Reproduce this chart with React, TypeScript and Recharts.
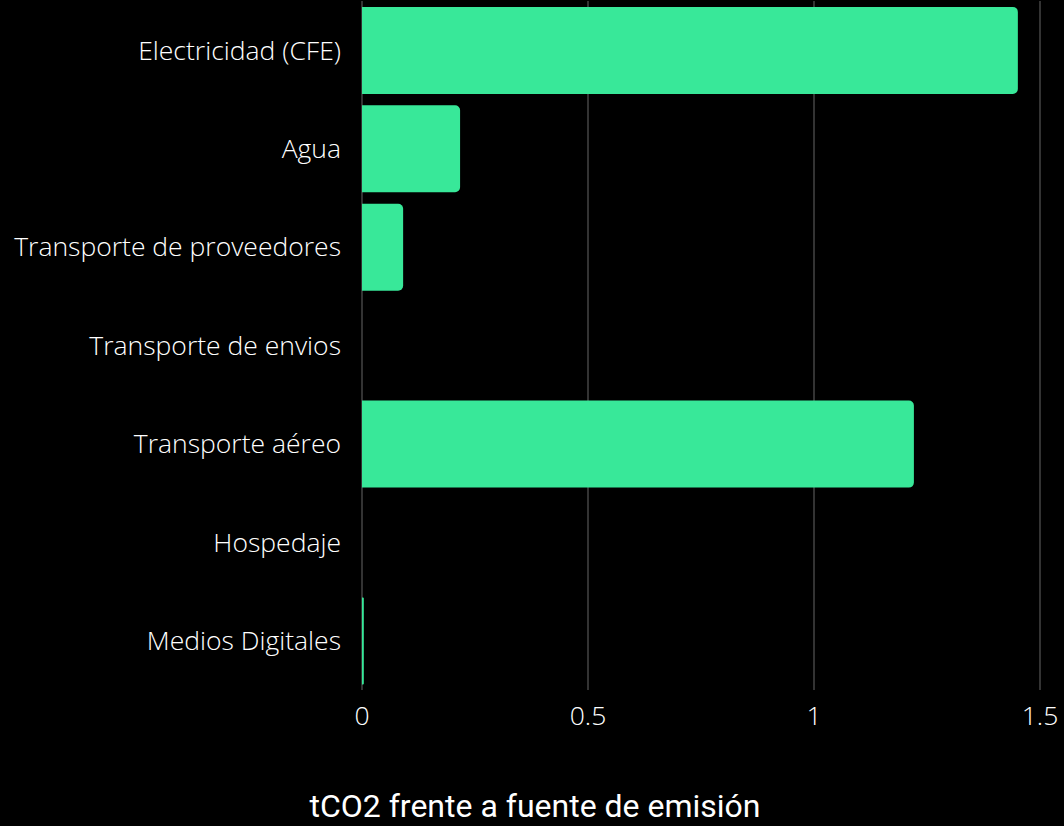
import { Bar, BarChart, CartesianGrid, XAxis, YAxis } from "recharts";

const categories = [
  "Electricidad (CFE)",
  "Agua",
  "Transporte de proveedores",
  "Transporte de envios",
  "Transporte aéreo",
  "Hospedaje",
  "Medios Digitales",
];
const emissions = [1.451, 0.217, 0.091, 0, 1.221, 0, 0.004];
const xTicks = [0, 0.5, 1, 1.5];

const chartData = categories.map((name, i) => ({ name, tco2: emissions[i] }));

const tickStyle = {
  fill: "#ffffff",
  fontFamily: "'Open Sans', sans-serif",
  fontWeight: 300,
  fontSize: 26.5,
};

export default function App() {
  return (
    <div
      style={{
        position: "fixed",
        top: 0,
        left: 0,
        width: 1064,
        height: 826,
        background: "#000",
        overflow: "hidden",
      }}
    >
      <BarChart
        width={1064}
        height={766}
        data={chartData}
        layout="vertical"
        margin={{ top: 1, right: 24, bottom: 0, left: 0 }}
        barCategoryGap="6%"
      >
        <CartesianGrid horizontal={false} stroke="#444" strokeWidth={1.5} />
        <XAxis
          type="number"
          domain={[0, 1.5]}
          ticks={xTicks}
          axisLine={false}
          tickLine={false}
          tickSize={0}
          tickMargin={16}
          height={76}
          tick={tickStyle}
          interval={0}
        />
        <YAxis
          type="category"
          dataKey="name"
          width={362}
          axisLine={false}
          tickLine={false}
          tickSize={0}
          tickMargin={21}
          tick={tickStyle}
          interval={0}
        />
        <Bar dataKey="tco2" fill="#38E899" radius={[0, 5, 5, 0]} isAnimationActive={false} />
      </BarChart>
      <div
        style={{
          position: "absolute",
          top: 787,
          left: 0,
          width: 1064,
          textAlign: "center",
          color: "#fff",
          fontFamily: "Roboto, sans-serif",
          fontSize: 32,
          transform: "translateX(3px)",
        }}
      >
        tCO2 frente a fuente de emisión
      </div>
    </div>
  );
}
